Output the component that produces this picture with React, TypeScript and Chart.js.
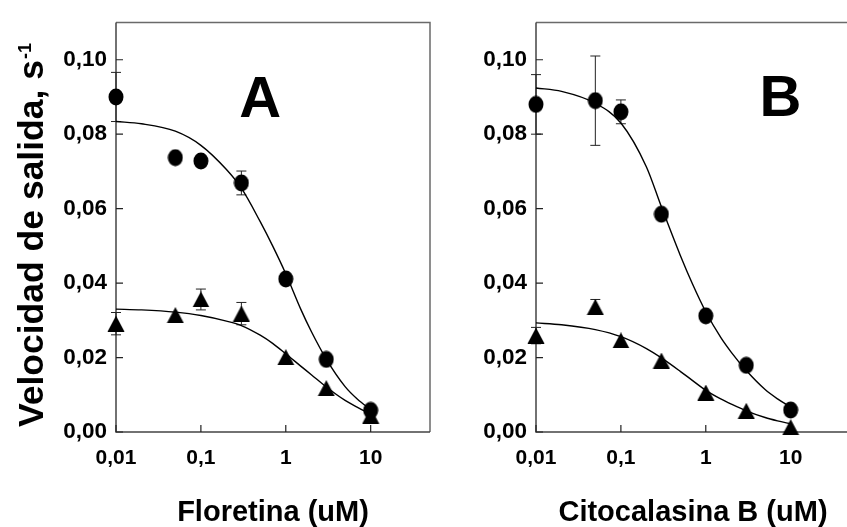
import React, { useEffect, useRef } from 'react';
import { Chart, registerables } from 'chart.js';

Chart.register(...registerables);

// ---------- data ----------
const concentrations = [0.01, 0.05, 0.1, 0.3, 1, 3, 10];

const floretinaCircles = [0.0900, 0.0737, 0.0728, 0.0669, 0.0411, 0.0195, 0.0058];
const floretinaCirclesErr = [0.0066, 0, 0, 0.0032, 0, 0, 0];
const floretinaTriangles = [0.0291, 0.0314, 0.0356, 0.0318, 0.0201, 0.0118, 0.0044];
const floretinaTrianglesErr = [0.0030, 0, 0.0028, 0.0030, 0, 0, 0];

const citoCircles = [0.0880, 0.0890, 0.0860, 0.0585, 0.0312, 0.0179, 0.0059];
const citoCirclesErr = [0.0080, 0.0120, 0.0032, 0, 0, 0, 0];
const citoTriangles = [0.0259, 0.0336, 0.0246, 0.0192, 0.0106, 0.0057, 0.0013];
const citoTrianglesErr = [0.0022, 0.0020, 0, 0, 0, 0, 0];

const curveX = [0.01, 0.02, 0.05, 0.1, 0.2, 0.3, 0.5, 0.7, 1, 1.5, 2, 3, 5, 7, 10];
const floretinaCircleFit = [0.0834, 0.0828, 0.0808, 0.0770, 0.0705, 0.0655, 0.0565, 0.0500, 0.0425, 0.0330, 0.0270, 0.0196, 0.0122, 0.0088, 0.0060];
const floretinaTriangleFit = [0.0330, 0.0328, 0.0322, 0.0313, 0.0298, 0.0286, 0.0260, 0.0238, 0.0210, 0.0177, 0.0154, 0.0121, 0.0085, 0.0066, 0.0048];
const citoCircleFit = [0.0924, 0.0915, 0.0883, 0.0830, 0.0712, 0.0605, 0.0475, 0.0397, 0.0323, 0.0254, 0.0214, 0.0165, 0.0114, 0.0089, 0.0067];
const citoTriangleFit = [0.0293, 0.0288, 0.0275, 0.0256, 0.0224, 0.0199, 0.0163, 0.0138, 0.0112, 0.0089, 0.0075, 0.0057, 0.0039, 0.0030, 0.0022];

const yTicks = [0, 0.02, 0.04, 0.06, 0.08, 0.1];
const xTicks = [0.01, 0.1, 1, 10];

const yTitle = 'Velocidad de salida, s';
const yTitleSup = '-1';
const titleA = 'Floretina (uM)';
const titleB = 'Citocalasina B (uM)';

const FONT = "'Liberation Sans', Arial, Helvetica, sans-serif";

function makeEllipse(): HTMLCanvasElement {
  const c = document.createElement('canvas');
  c.width = 16; c.height = 18;
  const g = c.getContext('2d')!;
  g.fillStyle = '#000';
  g.beginPath();
  g.ellipse(8, 9, 7.5, 8.5, 0, 0, Math.PI * 2);
  g.fill();
  return c;
}
function makeTriangle(): HTMLCanvasElement {
  const c = document.createElement('canvas');
  c.width = 18; c.height = 16;
  const g = c.getContext('2d')!;
  g.fillStyle = '#000';
  g.beginPath();
  g.moveTo(9, 0);
  g.lineTo(17.5, 16);
  g.lineTo(0.5, 16);
  g.closePath();
  g.fill();
  return c;
}

const pts = (xs: number[], ys: number[]) => xs.map((x, i) => ({ x, y: ys[i] }));

const framePlugin = {
  id: 'frameTicks',
  beforeDatasetsDraw(chart: any) {
    const { ctx, chartArea, scales } = chart;
    const { left, right, top, bottom } = chartArea;
    ctx.save();
    ctx.strokeStyle = '#6a6a6a';
    ctx.lineWidth = 1.5;
    ctx.beginPath();
    ctx.moveTo(left, top); ctx.lineTo(right, top); ctx.lineTo(right, bottom);
    ctx.stroke();
    ctx.strokeStyle = '#444';
    ctx.lineWidth = 1.5;
    ctx.beginPath();
    ctx.moveTo(left, top); ctx.lineTo(left, bottom); ctx.lineTo(right, bottom);
    ctx.stroke();
    ctx.strokeStyle = '#222';
    ctx.lineWidth = 1.2;
    ctx.beginPath();
    yTicks.forEach((v) => {
      const py = scales.y.getPixelForValue(v);
      ctx.moveTo(left, py); ctx.lineTo(left + 7, py);
    });
    xTicks.forEach((v) => {
      const px = scales.x.getPixelForValue(v);
      ctx.moveTo(px, bottom); ctx.lineTo(px, bottom - 7);
    });
    ctx.stroke();
    ctx.strokeStyle = '#222';
    ctx.lineWidth = 1;
    chart.data.datasets.forEach((ds: any) => {
      if (!ds.errors) return;
      ds.data.forEach((p: any, i: number) => {
        const e = ds.errors[i];
        if (!e) return;
        const px = scales.x.getPixelForValue(p.x);
        const y1 = scales.y.getPixelForValue(p.y + e);
        const y2 = scales.y.getPixelForValue(p.y - e);
        ctx.beginPath();
        ctx.moveTo(px, y1); ctx.lineTo(px, y2);
        ctx.moveTo(px - 5, y1); ctx.lineTo(px + 5, y1);
        ctx.moveTo(px - 5, y2); ctx.lineTo(px + 5, y2);
        ctx.stroke();
      });
    });
    ctx.restore();
  },
  afterDraw(chart: any) {
    const { ctx, scales } = chart;
    const o = chart.options.plugins.panelInfo;
    ctx.save();
    ctx.fillStyle = '#000';
    ctx.font = `bold 58px ${FONT}`;
    ctx.textAlign = 'center';
    ctx.textBaseline = 'alphabetic';
    ctx.fillText(o.letter, scales.x.getPixelForValue(o.letterX), scales.y.getPixelForValue(o.letterY));
    if (o.yTitle) {
      ctx.translate(43, 427);
      ctx.rotate(-Math.PI / 2);
      ctx.textAlign = 'left';
      ctx.font = `bold 35.5px ${FONT}`;
      ctx.fillText(yTitle, 0, 0);
      const w = ctx.measureText(yTitle).width;
      ctx.font = `bold 18px ${FONT}`;
      ctx.fillText(yTitleSup, w + 1, -12);
    }
    ctx.restore();
  },
};

function makeConfig(opts: {
  circles: number[]; circlesErr: number[]; tris: number[]; trisErr: number[];
  circleFit: number[]; triFit: number[]; xTitle: string; yWidth: number;
  letter: string; letterX: number; letterY: number; yTitle: boolean;
  ellipse: HTMLCanvasElement; triangle: HTMLCanvasElement;
}) {
  const tickFont = { family: FONT, weight: 'bold' as const };
  return {
    type: 'scatter' as const,
    data: {
      datasets: [
        {
          type: 'line', data: pts(curveX, opts.circleFit), borderColor: '#000', borderWidth: 1.4,
          pointRadius: 0, cubicInterpolationMode: 'monotone', fill: false, clip: false,
        },
        {
          type: 'line', data: pts(curveX, opts.triFit), borderColor: '#000', borderWidth: 1.4,
          pointRadius: 0, cubicInterpolationMode: 'monotone', fill: false, clip: false,
        },
        {
          type: 'scatter', data: pts(concentrations, opts.circles), errors: opts.circlesErr,
          pointStyle: opts.ellipse, pointRadius: 8, clip: false,
        },
        {
          type: 'scatter', data: pts(concentrations, opts.tris), errors: opts.trisErr,
          pointStyle: opts.triangle, pointRadius: 8, clip: false,
        },
      ],
    },
    options: {
      responsive: false,
      animation: false,
      devicePixelRatio: 1,
      layout: { padding: { top: 16, right: 10, left: 0, bottom: 0 } },
      plugins: {
        legend: { display: false },
        tooltip: { enabled: false },
        panelInfo: { letter: opts.letter, letterX: opts.letterX, letterY: opts.letterY, yTitle: opts.yTitle },
      },
      scales: {
        x: {
          type: 'logarithmic', min: 0.01, max: 50, position: 'bottom',
          afterBuildTicks: (s: any) => { s.ticks = xTicks.map((v) => ({ value: v })); },
          afterFit: (s: any) => { s.height = 95; },
          grid: { display: false, drawTicks: false },
          border: { display: false },
          ticks: {
            autoSkip: false, maxRotation: 0, padding: 14, color: '#000',
            font: { ...tickFont, size: 21 },
            callback: (v: any) => String(v).replace('.', ','),
          },
          title: {
            display: true, text: opts.xTitle, color: '#000', padding: { top: 0, bottom: 0 },
            font: { family: FONT, weight: 'bold', size: 29, lineHeight: 1 },
          },
        },
        y: {
          type: 'linear', min: 0, max: 0.11,
          afterBuildTicks: (s: any) => { s.ticks = yTicks.map((v) => ({ value: v })); },
          afterFit: (s: any) => { s.width = opts.yWidth; },
          grid: { display: false, drawTicks: false },
          border: { display: false },
          ticks: {
            padding: 9, color: '#000',
            font: { ...tickFont, size: 22.5 },
            callback: (v: any) => Number(v).toFixed(2).replace('.', ','),
          },
        },
      },
    },
    plugins: [framePlugin],
  };
}

export default function App() {
  const refA = useRef<HTMLCanvasElement>(null);
  const refB = useRef<HTMLCanvasElement>(null);

  useEffect(() => {
    document.body.style.margin = '0';
    const ellipse = makeEllipse();
    const triangle = makeTriangle();
    const a = new Chart(refA.current!, makeConfig({
      circles: floretinaCircles, circlesErr: floretinaCirclesErr,
      tris: floretinaTriangles, trisErr: floretinaTrianglesErr,
      circleFit: floretinaCircleFit, triFit: floretinaTriangleFit,
      xTitle: titleA, yWidth: 116, letter: 'A', letterX: 0.5, letterY: 0.0847, yTitle: true,
      ellipse, triangle,
    }) as any);
    const b = new Chart(refB.current!, makeConfig({
      circles: citoCircles, circlesErr: citoCirclesErr,
      tris: citoTriangles, trisErr: citoTrianglesErr,
      circleFit: citoCircleFit, triFit: citoTriangleFit,
      xTitle: titleB, yWidth: 96, letter: 'B', letterX: 7.6, letterY: 0.085, yTitle: false,
      ellipse, triangle,
    }) as any);
    return () => { a.destroy(); b.destroy(); };
  }, []);

  return (
    <div style={{ position: 'fixed', left: 0, top: 0, width: 847, height: 527, overflow: 'hidden', background: '#fff' }}>
      <canvas ref={refA} width={440} height={527} style={{ position: 'absolute', left: 0, top: 0, width: 440, height: 527 }} />
      <canvas ref={refB} width={420} height={527} style={{ position: 'absolute', left: 440, top: 0, width: 420, height: 527 }} />
    </div>
  );
}
